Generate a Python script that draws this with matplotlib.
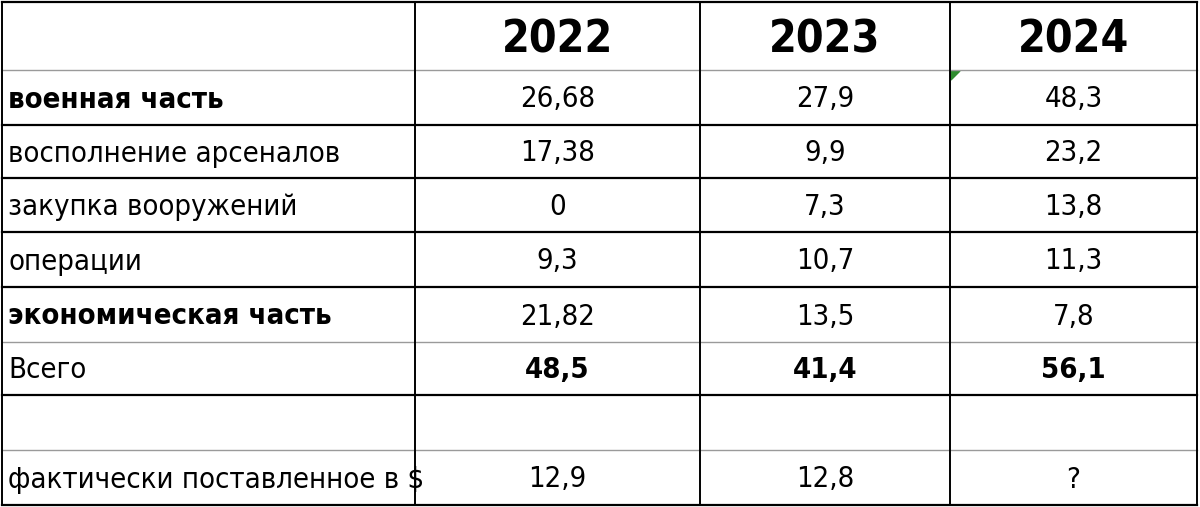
import matplotlib.pyplot as plt
from matplotlib import font_manager

years = ["2022", "2023", "2024"]
row_labels = ["военная часть", "восполнение арсеналов", "закупка вооружений", "операции",
              "экономическая часть", "Всего", "", "фактически поставленное в $"]
values = [
    ["26,68", "27,9", "48,3"],
    ["17,38", "9,9", "23,2"],
    ["0", "7,3", "13,8"],
    ["9,3", "10,7", "11,3"],
    ["21,82", "13,5", "7,8"],
    ["48,5", "41,4", "56,1"],
    ["", "", ""],
    ["12,9", "12,8", "?"],
]
bold_labels = {0, 4}
bold_values = {5}

names = {f.name for f in font_manager.fontManager.ttflist}
fam = ["Liberation Sans Narrow"] if "Liberation Sans Narrow" in names else ["DejaVu Sans"]
has_cond = any(f.name == "DejaVu Sans" and f.stretch in ("condensed", 600) or "Condensed" in f.fname
               for f in font_manager.fontManager.ttflist)
stretch = "condensed"
size = 21 if has_cond else 19

W, H = 1200, 507
fig = plt.figure(figsize=(12, 5.07), dpi=100)
ax = fig.add_axes([0, 0, 1, 1])
ax.set_xlim(0, W)
ax.set_ylim(H, 0)
ax.axis("off")

col_x = [2, 415, 700, 950, 1197]
row_y = [2, 70, 125, 178, 232, 287, 342, 395, 450, 505]
thick_rows = {0, 2, 3, 4, 5, 7, 9}

for i, y in enumerate(row_y):
    thick = i in thick_rows
    ax.plot([col_x[0], col_x[-1]], [y, y], color="black" if thick else "#9a9a9a",
            lw=1.6 if thick else 1.0)
for x in col_x:
    ax.plot([x, x], [row_y[0], row_y[-1]], color="black", lw=1.4)

for j, yr in enumerate(years):
    cx = (col_x[j + 1] + col_x[j + 2]) / 2
    ax.text(cx, 40, yr, ha="center", va="center", fontsize=32, fontweight="bold",
            family=fam, fontstretch=stretch)

for i, lab in enumerate(row_labels):
    cy = (row_y[i + 1] + row_y[i + 2]) / 2 + 2
    ax.text(8, cy, lab, ha="left", va="center", fontsize=size, fontstretch=stretch,
            fontweight="bold" if i in bold_labels else "normal", family=fam)
    for j, v in enumerate(values[i]):
        cx = (col_x[j + 1] + col_x[j + 2]) / 2
        ax.text(cx, cy, v, ha="center", va="center", fontsize=size, fontstretch=stretch,
                fontweight="bold" if i in bold_values else "normal", family=fam)

ax.fill([951, 960, 951], [71, 71, 80], color="#2e8b2e")

fig.savefig("out.png", dpi=100, facecolor="white")
